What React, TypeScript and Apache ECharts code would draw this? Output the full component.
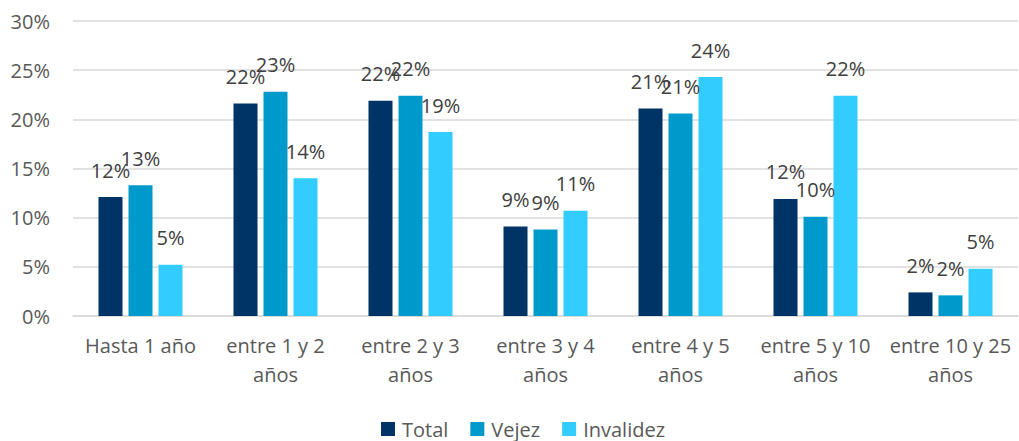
import React, { useEffect, useRef } from "react";
import * as echarts from "echarts";

const categories = [
  "Hasta 1 año",
  "entre 1 y 2\naños",
  "entre 2 y 3\naños",
  "entre 3 y 4\naños",
  "entre 4 y 5\naños",
  "entre 5 y 10\naños",
  "entre 10 y 25\naños",
];
const seriesNames = ["Total", "Vejez", "Invalidez"];
const totalValues = [12.1, 21.6, 21.9, 9.1, 21.1, 11.9, 2.4];
const vejezValues = [13.3, 22.8, 22.4, 8.8, 20.6, 10.1, 2.1];
const invalidezValues = [5.2, 14.0, 18.7, 10.7, 24.3, 22.4, 4.8];
const colors = ["#003366", "#0099CC", "#33CCFF"];
const yTicks = { min: 0, max: 30, interval: 5 };

const FONT = "'Open Sans', 'Noto Sans', sans-serif";

export default function App() {
  const ref = useRef<HTMLDivElement>(null);
  useEffect(() => {
    document.body.style.margin = "0";
    if (!ref.current) return;
    const chart = echarts.init(ref.current, undefined, { renderer: "svg" });
    const values = [totalValues, vejezValues, invalidezValues];
    chart.setOption({
      animation: false,
      textStyle: { fontFamily: FONT },
      grid: { left: 73, right: 1, top: 21, bottom: 125 },
      legend: {
        data: seriesNames,
        top: 418,
        left: 381,
        padding: 0,
        icon: "rect",
        itemWidth: 14,
        itemHeight: 14,
        itemGap: 22,
        textStyle: {
          fontFamily: FONT,
          fontSize: 20,
          lineHeight: 22,
          color: "#595959",
          padding: [0, 0, 0, 2],
        },
      },
      xAxis: {
        type: "category",
        data: categories,
        axisLine: { show: true, lineStyle: { color: "#D9D9D9", width: 1.5 } },
        axisTick: { show: false },
        axisLabel: {
          interval: 0,
          fontFamily: FONT,
          fontSize: 20,
          color: "#595959",
          lineHeight: 29,
          margin: 15,
        },
      },
      yAxis: {
        type: "value",
        min: yTicks.min,
        max: yTicks.max,
        interval: yTicks.interval,
        axisLine: { show: false },
        axisTick: { show: false },
        splitLine: { lineStyle: { color: "#D9D9D9", width: 1.5 } },
        axisLabel: {
          formatter: "{value}%",
          fontFamily: FONT,
          fontSize: 20,
          color: "#595959",
          margin: 23,
        },
      },
      series: seriesNames.map((name, i) => ({
        name,
        type: "bar",
        data: values[i],
        barWidth: 24,
        barGap: "25%",
        itemStyle: { color: colors[i] },
        label: {
          show: true,
          position: "top",
          distance: 17,
          fontFamily: FONT,
          fontSize: 20,
          color: "#404040",
          formatter: (p: any) => Math.round(p.value) + "%",
        },
      })),
    });
    return () => chart.dispose();
  }, []);
  return <div ref={ref} style={{ width: 1019, height: 441 }} />;
}
